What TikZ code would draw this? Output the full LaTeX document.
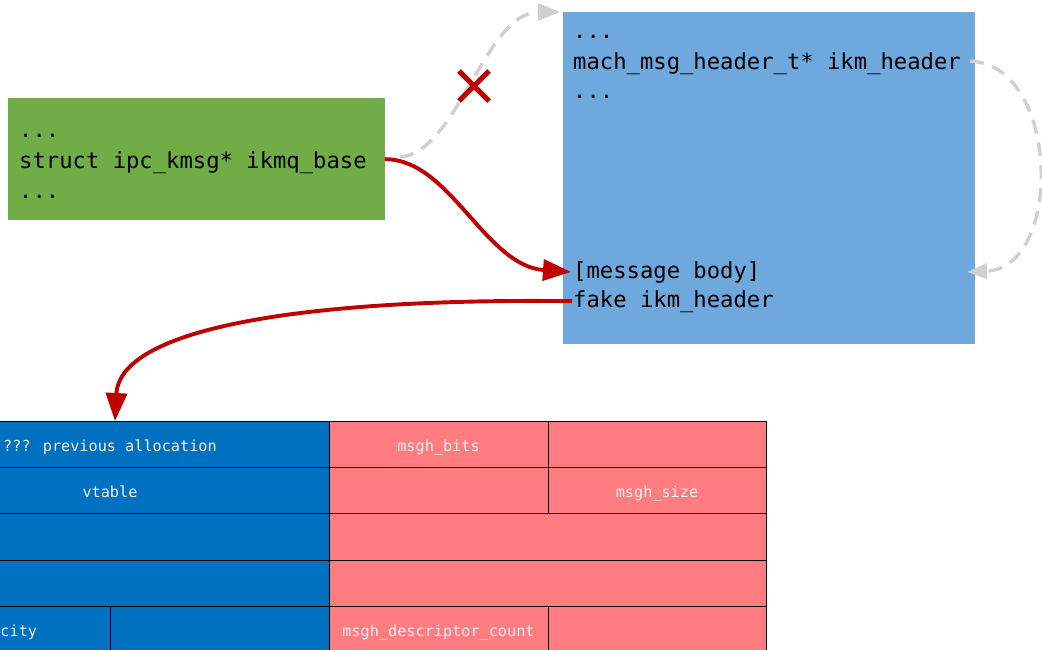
\documentclass[tikz,border=0pt]{standalone}
\usepackage{fontspec}
\usetikzlibrary{arrows.meta,calc}
\newfontfamily\codefont{DejaVu Sans Mono}
\newcommand\codesize{\codefont\fontsize{22.2}{26}\selectfont}
\newcommand\tblsize{\codefont\fontsize{15.2}{18}\selectfont}
\definecolor{grn}{HTML}{70AD47}
\definecolor{lblue}{HTML}{6FA8DC}
\definecolor{dblue}{HTML}{0070C0}
\definecolor{pinkc}{HTML}{FF7C80}
\definecolor{dred}{HTML}{C00000}
\definecolor{lgray}{HTML}{D0D0D0}
\definecolor{tcol}{HTML}{F2F2F2}
\begin{document}
\begin{tikzpicture}[x=1pt,y=-1pt,
  code/.style={anchor=base west, inner sep=0pt, font=\codesize, text=black},
  panel/.style={anchor=north west, inner sep=0pt, outer sep=0pt, draw=none},
  cell/.style={draw=black, line width=0.9pt, anchor=north west, inner sep=0pt, outer sep=0pt,
    minimum height=46.4pt, text=tcol, font=\tblsize, text height=16pt, text depth=2pt},
  redarrow/.style={draw=dred, line width=3.9pt, -{Triangle[length=28pt,width=21pt]}},
  grayarrow/.style={draw=lgray, line width=3.4pt, dash pattern=on 14pt off 9pt},
]
\useasboundingbox (0,0) rectangle (1042,650);
\clip (0,0) rectangle (1042,650);

% green panel
\node[panel, fill=grn, minimum width=377pt, minimum height=122pt] (kmq) at (8,98) {};
\node[code] (g1) at (19,138) {...};
\node[code] (base) at (19,168) {struct ipc\_kmsg* ikmq\_base};
\node[code] (g3) at (19,198) {...};

% blue panel
\node[panel, fill=lblue, minimum width=412pt, minimum height=332pt] (kmsg) at (563,12) {};
\node[code] (b1) at (573,39) {...};
\node[code] (hdr) at (573,70) {mach\_msg\_header\_t* ikm\_header};
\node[code] (b3) at (573,99) {...};
\node[code] (body) at (573,278) {[message body]};
\node[code] (fake) at (573,307) {fake ikm\_header};

% table
\node[cell, fill=dblue, minimum width=438pt] (prev) at (-109,421) {??? previous allocation};
\node[cell, fill=dblue, minimum width=438pt] (vtable) at (-109,467.4) {vtable};
\node[cell, fill=dblue, minimum width=438pt] (bl3) at (-109,513.8) {};
\node[cell, fill=dblue, minimum width=438pt] (bl4) at (-109,560.2) {};
\node[cell, fill=dblue, minimum width=219pt] (cap) at (-109,606.6) {capacity};
\node[cell, fill=dblue, minimum width=219pt] (bl5) at (110,606.6) {};

\node[cell, fill=pinkc, minimum width=219pt] (bits) at (329,421) {msgh\_bits};
\node[cell, fill=pinkc, minimum width=218pt] (p12) at (548,421) {};
\node[cell, fill=pinkc, minimum width=219pt] (p21) at (329,467.4) {};
\node[cell, fill=pinkc, minimum width=218pt] (size) at (548,467.4) {msgh\_size};
\node[cell, fill=pinkc, minimum width=437pt] (p3) at (329,513.8) {};
\node[cell, fill=pinkc, minimum width=437pt] (p4) at (329,560.2) {};
\node[cell, fill=pinkc, minimum width=219pt] (desc) at (329,606.6) {msgh\_descriptor\_count};
\node[cell, fill=pinkc, minimum width=218pt] (p52) at (548,606.6) {};

% gray dashed arrows
\draw[grayarrow, -{Triangle[length=22pt,width=17pt]}]
  ([xshift=15pt,yshift=5pt]kmq.east |- base.center) .. controls (458,152) and (485,12) .. ([xshift=-3pt]kmsg.north west);
\draw[grayarrow, -{Triangle[length=20pt,width=15pt]}]
  ([xshift=9pt,yshift=3pt]hdr.east) .. controls (1060,64) and (1064,268) .. ([xshift=-8pt]kmsg.east |- body.center);

% red cross
\draw[dred, line width=5pt] (459,71) -- (489,101) (459,101) -- (489,71);

% red arrows
\draw[redarrow] ([yshift=3pt]kmq.east |- base.center) .. controls (450,159) and (485,266) .. ([xshift=-2pt]body.west);
\draw[redarrow] ([xshift=-1pt]fake.west) .. controls (320,298) and (120,325) .. ([xshift=5pt]prev.north);
\end{tikzpicture}
\end{document}
